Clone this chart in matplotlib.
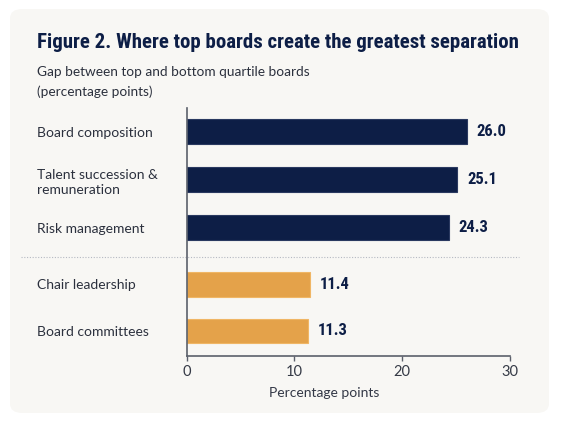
import matplotlib
matplotlib.use('Agg')
import matplotlib.pyplot as plt
from matplotlib import font_manager as fm
from matplotlib.patches import FancyBboxPatch
from matplotlib.transforms import blended_transform_factory

categories = ['Board composition', 'Talent succession &\nremuneration', 'Risk management',
              'Chair leadership', 'Board committees']
values = [26.0, 25.1, 24.3, 11.4, 11.3]
groups = ['top', 'top', 'top', 'bottom', 'bottom']
x_ticks = [0, 10, 20, 30]

NAVY = '#0d1e46'
ORANGE = '#e4a24a'
TEXT = '#2b303d'

names = {f.name for f in fm.fontManager.ttflist}
cond = next((n for n in ['Liberation Sans Narrow', 'Roboto Condensed', 'Open Sans Condensed']
             if n in names), 'Roboto')
plt.rcParams['font.family'] = ['Lato', 'DejaVu Sans']

W, H = 563, 424
fig = plt.figure(figsize=(W / 100, H / 100), dpi=100)
fig.patch.set_facecolor('white')

# panel background
panel = FancyBboxPatch((10 / W, 11 / H), 539 / W, 404 / H,
                       boxstyle='round,pad=0,rounding_size=0.022',
                       transform=fig.transFigure, facecolor='#f8f7f4',
                       edgecolor='none', zorder=-5)
fig.patches.append(panel)

# axes placed in pixel layout
left, right, top, bottom = 186.7, 510, 108, 355.7
ax = fig.add_axes([left / W, 1 - bottom / H, (right - left) / W, (bottom - top) / H])
ax.set_facecolor('none')
ax.set_zorder(2)

# y positions: small extra gap between the two groups
ypos = []
y = 0.0
for i, g in enumerate(groups):
    if i > 0:
        y += 1.0 if g == groups[i - 1] else 1.18
    ypos.append(y)
ypos[-1] -= 0.03

colors = [NAVY if g == 'top' else ORANGE for g in groups]
edges = ['#2a3960' if g == 'top' else '#f0b665' for g in groups]
bars = ax.barh(ypos, values, height=0.515, color=colors, edgecolor=edges, linewidth=0.8)
ax.bar_label(bars, labels=[f'{v:.1f}' for v in values], padding=7,
             fontsize=12, fontweight='bold', color=NAVY, family=[cond, 'DejaVu Sans'])

ax.set_xlim(0, 30)
ax.set_ylim(4.667, -0.494)
ax.set_xticks(x_ticks)
ax.set_yticks(ypos, categories)
for lab in ax.get_yticklabels():
    lab.set_horizontalalignment('left')
    lab.set_linespacing(1.35)
ax.tick_params(axis='y', length=0, pad=(left - 37) * 0.72, labelsize=10, labelcolor=TEXT)
ax.tick_params(axis='x', length=3.5, width=1, color='#5b606b', pad=3.5,
               labelsize=10.5, labelcolor='#353a46')

for s in ['top', 'right']:
    ax.spines[s].set_visible(False)
for s in ['left', 'bottom']:
    ax.spines[s].set_color('#5b606b')
    ax.spines[s].set_linewidth(1.2)

ax.set_xlabel('Percentage points', fontsize=10, color='#333846', va='center')
ax.xaxis.set_label_coords((324 - left) / (right - left), (bottom - 393) / (bottom - top))

# dotted separator between the groups
sep_y = (ypos[2] + ypos[3]) / 2 + 0.03
tr = blended_transform_factory(fig.transFigure, ax.transData)
ax.plot([21 / W, 519 / W], [sep_y, sep_y], transform=tr, clip_on=False,
        color='#b5b9c2', linestyle=(0, (1, 1.5)), linewidth=0.8)

# title and subtitle
title = fig.text(36.7 / W, 1 - 48 / H, 'Figure 2. Where top boards create the greatest separation',
                 fontsize=16, fontweight='bold', color=NAVY, family=[cond, 'DejaVu Sans'],
                 va='baseline', ha='left')
fig.canvas.draw()
w = title.get_window_extent().width
title.set_fontsize(16 * 483 / w)

fig.text(36.7 / W, 1 - 72 / H, 'Gap between top and bottom quartile boards',
         fontsize=9.8, color=TEXT, va='center', ha='left')
fig.text(36.7 / W, 1 - 92 / H, '(percentage points)',
         fontsize=9.8, color=TEXT, va='center', ha='left')

fig.savefig('out.png', dpi=100, facecolor='white')
